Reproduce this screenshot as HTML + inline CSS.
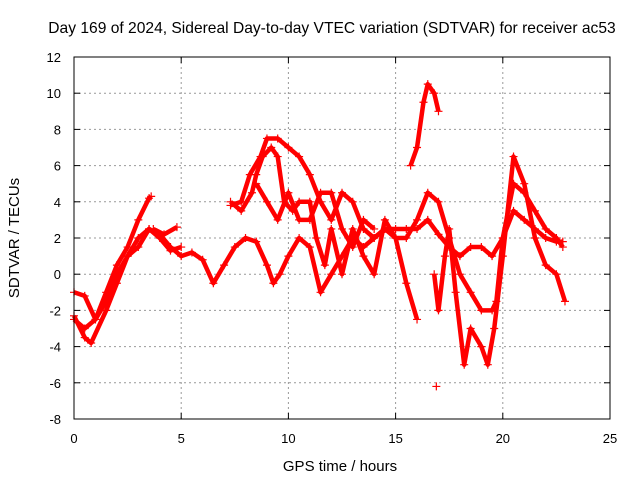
<!DOCTYPE html>
<html><head><meta charset="utf-8"><style>
body{margin:0;background:#fff}
svg text{font-family:"Liberation Sans",sans-serif;fill:#000}
</style></head><body>
<svg id="chart" width="640" height="480">
<text x="332" y="33" font-size="15.6" text-anchor="middle">Day 169 of 2024, Sidereal Day-to-day VTEC variation (SDTVAR) for receiver ac53</text>
<text x="340" y="471" font-size="15" text-anchor="middle">GPS time / hours</text>
<text transform="translate(19,238) rotate(-90)" font-size="15" text-anchor="middle">SDTVAR / TECUs</text>
<g id="grid"></g><g id="ticks"></g><g id="marks"></g>
<rect x="74" y="57" width="536" height="362" fill="none" stroke="#000"/>
</svg>
<script>
const xTicks=[0,5,10,15,20,25];
const yTicks=[-8,-6,-4,-2,0,2,4,6,8,10,12];
const seriesA=[[0,-2.3],[0.5,-3.5],[0.8,-3.8],[1.5,-2],[2,-0.5],[2.5,1],[3,2],[3.5,2.5],[4,2.2],[4.5,1.5],[5,1],[5.5,1.2],[6,0.8],[6.5,-0.5],[7,0.5],[7.5,1.5],[8,2],[8.5,1.8],[9,0.5],[9.3,-0.5],[9.6,0],[10,1],[10.5,2],[11,1.5],[11.5,-1],[12,0],[12.5,1],[13,2],[13.5,1.5],[14,2],[14.5,2.5],[15,2.5],[15.5,2.5],[16,2.5],[16.5,3],[17,2.2],[17.5,1.5],[18,1],[18.5,1.5],[19,1.5],[19.5,1],[20,2],[20.5,3.5],[21,3],[21.5,2.5],[22,2],[22.5,1.8],[22.8,1.8]];
const seriesB=[[0,-1],[0.5,-1.2],[1,-2.5],[1.5,-1],[2,0.5],[2.5,1.5],[3,3],[3.5,4.2],[3.6,4.3],null,[3.7,2.5],[4.2,2.2],[4.8,2.6],null,[7.3,3.8],[7.8,4],[8.2,5.5],[8.7,6.5],[9,7.5],[9.5,7.5],[10,7],[10.5,6.5],[11,5.5],[11.5,4],[12,3],[12.5,4.5],[13,4],[13.5,2.5],[14,2],[14.5,2.5],[15,2],[15.5,2],[16,3],[16.5,4.5],[17,4],[17.5,2],[18,0],[18.5,-1],[19,-2],[19.5,-2],[19.7,-1.5],[20,2],[20.5,5],[21,4.5],[21.5,3.5],[22,2.5],[22.5,2],[22.8,1.5]];
const seriesC=[[7.3,4],[7.8,3.5],[8.3,4.5],[8.5,5.5],[8.8,6.5],[9.2,7],[9.5,6.5],[9.8,4],[10.2,3.5],[10.5,4],[11,4],[11.3,2],[11.7,0.5],[12,2.5],[12.5,0],[13,2.5],[13.5,1],[14,0],[14.5,3],[15,2],[15.5,-0.5],[16,-2.5],null,[16.8,0],[17,-2],[17.3,1],[17.5,2.5],[17.8,-1],[18.2,-5],[18.5,-3],[19,-4],[19.3,-5],[19.6,-3],[20,1],[20.5,6.5],[21,5],[21.5,2],[22,0.5],[22.5,0],[22.9,-1.5]];
const seriesD=[[15.7,6],[16,7],[16.3,9.5],[16.5,10.5],[16.8,10],[17,9]];
const seriesE=[[0,-2.5],[0.5,-3],[1,-2.5],[1.5,-1.5],[2,0],[2.5,1],[3,1.5],[3.5,2.5],[4,2],[4.5,1.3],[5,1.5],null,[8.5,5],[9,4],[9.5,3],[10,4.5],[10.5,3],[11,3],[11.5,4.5],[12,4.5],[12.5,2.5],[13,1.5],[13.5,3],[14,2.5]];
const X=t=>74+t*536/25, Y=v=>57+(12-v)*362/20;
const NS="http://www.w3.org/2000/svg";
function mk(tag,at,parent){const e=document.createElementNS(NS,tag);for(const k in at)e.setAttribute(k,at[k]);parent.appendChild(e);return e;}
const grid=document.getElementById('grid'),ticks=document.getElementById('ticks'),marks=document.getElementById('marks');
xTicks.forEach(t=>{
 if(t>0&&t<25){const g=mk('line',{x1:X(t),x2:X(t),y1:57,y2:419,stroke:'#999','stroke-dasharray':'2,3'},grid);
 
 }
 const l=mk('text',{x:X(t),y:443,'font-size':13,'text-anchor':'middle'},ticks);l.textContent=t;
 
 
 mk('line',{x1:X(t),x2:X(t),y1:419,y2:413,stroke:'#000'},ticks);mk('line',{x1:X(t),x2:X(t),y1:57,y2:63,stroke:'#000'},ticks);
});
yTicks.forEach(v=>{
 if(v>-8&&v<12){const g=mk('line',{x1:74,x2:610,y1:Y(v),y2:Y(v),stroke:'#999','stroke-dasharray':'2,3'},grid);
 
 }
 const l=mk('text',{x:61,y:Y(v)+5,'font-size':13,'text-anchor':'end'},ticks);l.textContent=v;
 
 
 mk('line',{x1:74,x2:80,y1:Y(v),y2:Y(v),stroke:'#000'},ticks);mk('line',{x1:610,x2:604,y1:Y(v),y2:Y(v),stroke:'#000'},ticks);
});
[seriesA,seriesB,seriesC,seriesD,seriesE].forEach((s,i)=>{
 let d='',pen=false;
 s.forEach(p=>{if(!p){pen=false;return;}d+=(pen?'L':'M')+X(p[0])+','+Y(p[1]);pen=true;});
 const path=mk('path',{d:d,fill:'none',stroke:'#f00','stroke-width':4.5,'stroke-linejoin':'round'},marks);
 
 
 s.forEach(p=>{if(!p)return;const x=X(p[0]),y=Y(p[1]);
  const m=mk('path',{d:`M${x-4},${y}H${x+4}M${x},${y-4}V${y+4}`,stroke:'#f00','stroke-width':1.2},marks);
  
  });
});
const iso=[[16.9,-6.2]];
iso.forEach(p=>{const x=X(p[0]),y=Y(p[1]);const m=mk('path',{d:`M${x-4},${y}H${x+4}M${x},${y-4}V${y+4}`,stroke:'#f00','stroke-width':1.2},marks);
 
 });
</script>
</body></html>
